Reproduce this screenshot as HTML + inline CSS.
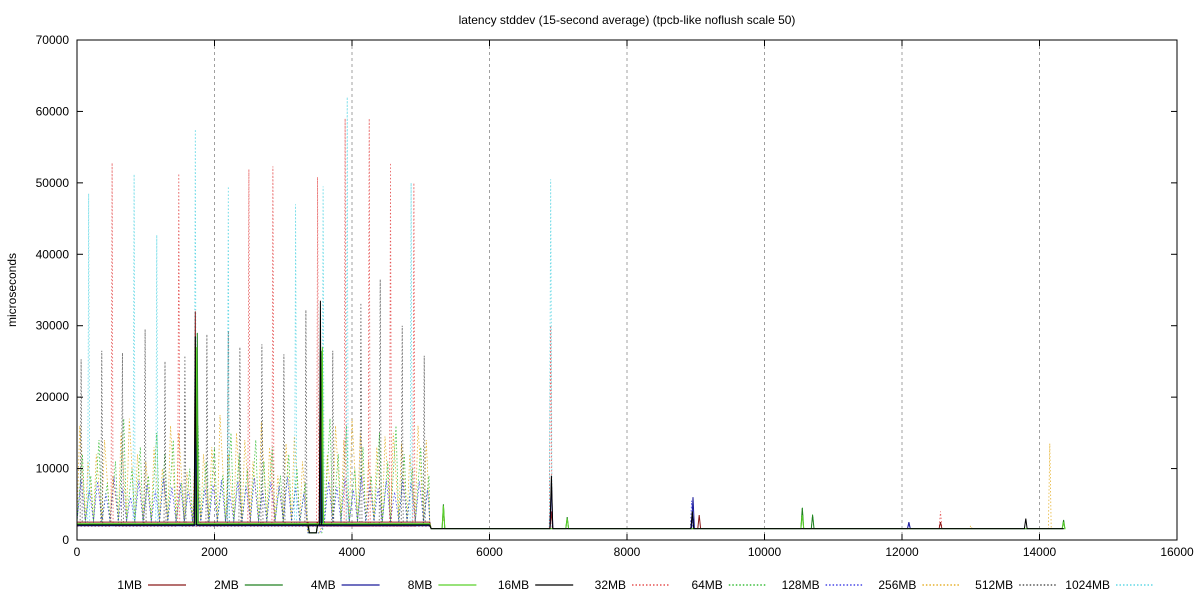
<!DOCTYPE html>
<html><head><meta charset="utf-8"><style>
body{margin:0;background:#fff;font-family:"Liberation Sans",sans-serif}
svg text{font-family:"Liberation Sans",sans-serif;font-size:12px;fill:#000}
</style></head><body>
<svg id="c" width="1200" height="600" xmlns="http://www.w3.org/2000/svg">
<rect width="1200" height="600" fill="#fff"/>
<text x="627" y="24" text-anchor="middle">latency stddev (15-second average) (tpcb-like noflush scale 50)</text>
<text transform="translate(16,290) rotate(-90)" text-anchor="middle">microseconds</text>
<g id="grid"></g><g id="series"></g><g id="axes"></g><g id="legend"></g>
</svg>
<script>
const xTicks=[0,2000,4000,6000,8000,10000,12000,14000,16000];
const yTicks=[0,10000,20000,30000,40000,50000,60000,70000];
const seriesNames=["1MB","2MB","4MB","8MB","16MB","32MB","64MB","128MB","256MB","512MB","1024MB"];
const denseT=[0,120,240,360,480,600,720,840,960,1080,1200,1320,1440,1560,1680,1800,1920,2040,2160,2280,2400,2520,2640,2760,2880,3000,3120,3240,3360,3480,3600,3720,3840,3960,4080,4200,4320,4440,4560,4680,4800,4920,5040];
const peaks128=[8500,7000,8200,6500,8800,7200,6000,8300,7800,6900,8600,7400,8000,6800,8900,7100,7700,8400,6600,8200,7500,8700,6900,8100,7600,8800,7300,6500,1000,1000,8200,7400,8600,7000,8900,7800,7200,8300,6700,8500,7900,8200,7000];
const peaks256=[16000,11000,12000,14000,9000,15000,17000,12000,11000,13000,10000,16000,15000,9500,14000,12000,13000,17500,12000,15000,14000,11000,16500,13000,9000,13500,14500,11000,1000,1000,12000,16000,14000,17000,15000,11000,13000,14500,15000,13500,12000,16000,14000];
const peaks64=[12000,9000,14000,8000,11000,17000,10000,13000,9000,15000,12000,14000,8000,10000,16000,11000,13000,9000,15000,12000,10000,14000,11000,13000,9000,12000,10000,8000,1000,1000,17000,12000,16000,10000,13000,9000,15000,11000,16000,12000,10000,13000,9000];
const spikes32=[[510,52800],[1480,51300],[2500,51900],[2850,52300],[3500,50800],[3900,59000],[4250,59000],[4560,52800],[4900,50000],[6890,30000],[12560,4000]];
const spikes1024=[[170,48500],[830,51200],[1160,42700],[1720,57500],[2200,49500],[3180,47000],[3580,49500],[3930,62000],[4860,50000],[6890,50500]];
const spikes512=[[60,25300],[360,26500],[660,26200],[990,29500],[1280,25000],[1570,25800],[1890,28800],[2200,29300],[2370,27000],[2690,27400],[3010,26000],[3330,32200],[3720,26500],[4130,33200],[4410,36500],[4730,30000],[5050,25800]];
const spikesSolid16=[[1720,28500],[3540,33500],[6900,9000],[8950,4000],[13800,3000]];
const spikesSolid1=[[1720,32000],[3540,26000],[6900,4000],[9050,3500],[12560,2500]];
const spikesSolid2=[[1750,29000],[3560,26500],[5330,5000],[7130,3200],[10550,4500],[10700,3500],[14350,2800]];
const spikesSolid4=[[1730,20000],[3550,20000],[6900,8000],[8960,6000],[12100,2500]];
const spikesSolid8=[[1740,27000],[3570,27000],[5330,4800],[7130,3000],[10550,3500],[14350,2500]];
const spikes256tail=[[14150,13500],[5330,3500],[13000,2000]];
const baseDense=[2500,2200,2000,2300,2100,1900,2400,2600,2800,2200,2000];
const baseTail=1600;
const gapStart=3360, gapEnd=3500, denseEnd=5130, tailEnd=14350;

const X=v=>77+v*1100/16000, Y=v=>540-v*500/70000;
const NS="http://www.w3.org/2000/svg";
function mk(tag,attrs,parent){const e=document.createElementNS(NS,tag);for(const k in attrs)e.setAttribute(k,attrs[k]);parent.appendChild(e);return e;}
const colors=["#8b1a1a","#208020","#1a1a9a","#5ad02a","#000","#e03030","#10b010","#2020e0","#e0a000","#333","#40d0e0"];
const dashes=[null,null,null,null,null,"1.5,2","1.5,2","1.5,2","1.5,2","1.5,2","1.5,2"];
const grid=document.getElementById('grid'),axes=document.getElementById('axes'),sg=document.getElementById('series'),lg=document.getElementById('legend');
xTicks.forEach(t=>{if(t>0&&t<16000){const l=mk('line',{x1:X(t),x2:X(t),y1:40,y2:540,stroke:'#a0a0a0','stroke-dasharray':'3,3','stroke-width':1},grid);

}
const tx=mk('text',{x:X(t),y:556,'text-anchor':'middle'},axes);tx.textContent=t;


mk('line',{x1:X(t),x2:X(t),y1:540,y2:534,stroke:'#000'},axes);mk('line',{x1:X(t),x2:X(t),y1:40,y2:46,stroke:'#000'},axes);});
yTicks.forEach(t=>{const tx=mk('text',{x:69,y:Y(t)+4,'text-anchor':'end'},axes);tx.textContent=t;


mk('line',{x1:77,x2:83,y1:Y(t),y2:Y(t),stroke:'#000'},axes);mk('line',{x1:1177,x2:1171,y1:Y(t),y2:Y(t),stroke:'#000'},axes);});
const fr=mk('rect',{x:77,y:40,width:1100,height:500,fill:'none',stroke:'#000'},axes);



function tailPts(list,base,pts){pts.push([denseEnd+20,baseTail]);
  const s=list.filter(p=>p[0]>denseEnd).sort((a,b)=>a[0]-b[0]);
  s.forEach(p=>{pts.push([p[0]-20,baseTail],[p[0],p[1]],[p[0]+20,baseTail]);});
  pts.push([tailEnd,baseTail]);}
function densePeaks(peaks,off,base,pts){denseT.forEach((t,i)=>{const b=(t>=gapStart&&t<gapEnd)?1000:base;pts.push([t,b],[t+off,peaks[i]]);});pts.push([denseEnd,base]);}
function denseSpikes(list,base,pts){pts.push([0,base]);list.filter(p=>p[0]<=denseEnd).sort((a,b)=>a[0]-b[0]).forEach(p=>{pts.push([p[0]-15,base],[p[0],p[1]],[p[0]+15,base]);});
  pts.push([gapStart,base],[gapStart+20,1000],[gapEnd-20,1000],[gapEnd,base],[denseEnd,base]);}
const all=[spikesSolid1,spikesSolid2,spikesSolid4,spikesSolid8,spikesSolid16,spikes32,null,null,null,spikes512,spikes1024];
const order=[8,6,7,9,5,10,0,1,2,3,4];
order.forEach(i=>{let pts=[];
  if(i===7){densePeaks(peaks128,60,baseDense[i],pts);tailPts([[8940,5500],[12100,2200]],baseTail,pts);}
  else if(i===8){densePeaks(peaks256,40,baseDense[i],pts);tailPts(spikes256tail,baseTail,pts);}
  else if(i===6){densePeaks(peaks64,80,baseDense[i],pts);tailPts([[10550,4600],[10700,3600],[7130,3000]],baseTail,pts);}
  else{denseSpikes(all[i],baseDense[i],pts);tailPts(all[i],baseTail,pts);}
  const d=pts.map((p,k)=>(k?'L':'M')+X(p[0]).toFixed(1)+','+Y(p[1]).toFixed(1)).join('');
  const a={d:d,fill:'none',stroke:colors[i],'stroke-width':i<5?1:0.8,'stroke-opacity':i<5?1:0.8};if(dashes[i])a['stroke-dasharray']=dashes[i];
  const p=mk('path',a,sg);
  
  
});
seriesNames.forEach((n,i)=>{const ex=142+i*96.8;
  const g=mk('g',{},lg);
  
  
  const t=mk('text',{x:ex,y:589,'text-anchor':'end'},g);t.textContent=n;
  const a={x1:ex+6,x2:ex+44,y1:585,y2:585,stroke:colors[i],'stroke-width':1.2};if(dashes[i])a['stroke-dasharray']=dashes[i];mk('line',a,g);});
</script>
</body></html>
